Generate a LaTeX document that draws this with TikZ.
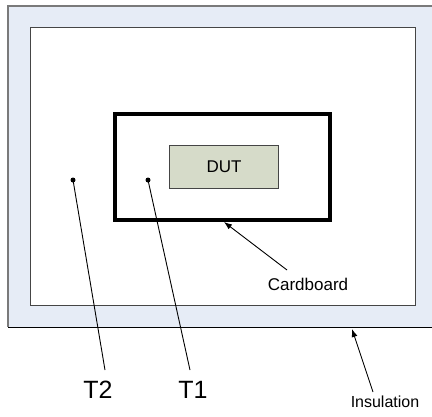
\documentclass[tikz,border=0pt]{standalone}
\usepackage{fontspec}
\setmainfont{Liberation Sans}
\usetikzlibrary{arrows.meta}
\definecolor{insulfill}{HTML}{E6ECF6}
\definecolor{dutfill}{HTML}{D6DBC9}
\definecolor{edgegray}{HTML}{7A7A7A}
\definecolor{darkedge}{HTML}{454545}
\begin{document}
\begin{tikzpicture}[x=1pt,y=-1pt,
  lbl/.style={inner sep=0pt, anchor=base, font=\fontsize{17}{20}\selectfont},
  biglbl/.style={inner sep=0pt, anchor=base, font=\fontsize{25}{30}\selectfont},
  smalllbl/.style={inner sep=0pt, anchor=base, font=\fontsize{16}{19}\selectfont},
  leader/.style={line width=0.9pt, black},
  pointer/.style={line width=0.9pt, black, -{Latex[length=8pt,width=6pt]}},
  probe/.style={circle, fill=black, inner sep=0pt, minimum size=5pt},
  box/.style={anchor=north west, inner sep=0pt, outer sep=0pt}]
\useasboundingbox (0,0) rectangle (432,416);
% insulation
\fill[insulfill] (8,6) rectangle (432,327);
\draw[edgegray, line width=1.5pt] (8,327) -- (8,6) -- (432,6);
\draw[black, line width=1pt] (8,327) -- (432,327);
% chamber
\node[box, draw=darkedge, line width=1pt, fill=white, minimum width=385pt, minimum height=278pt] (chamber) at (30,27) {};
% cardboard
\node[box, draw=black, line width=4pt, fill=white, minimum width=215pt, minimum height=106pt] (cardboard) at (115,114) {};
% DUT
\node[box, draw=darkedge, line width=0.8pt, fill=dutfill, minimum width=109pt, minimum height=43pt] (dut) at (169,145) {};
\node[lbl] (duttext) at (224,172) {DUT};
% probes
\node[probe] (t2p) at (73,180) {};
\node[probe] (t1p) at (148,180) {};
\coordinate (t2e) at (105,370);
\coordinate (t1e) at (190,370);
\draw[leader] (t2p.center) -- (t2e);
\draw[leader] (t1p.center) -- (t1e);
\node[biglbl] (t2) at (98,398) {T2};
\node[biglbl] (t1) at (193,398) {T1};
% cardboard label
\coordinate (cbtail) at (287,270);
\coordinate (cbtip) at (224,222);
\draw[pointer] (cbtail) -- (cbtip);
\node[lbl] (cblabel) at (308,290) {Cardboard};
% insulation label
\coordinate (intail) at (373,392);
\coordinate (intip) at (352,329);
\draw[pointer] (intail) -- (intip);
\node[smalllbl] (inlabel) at (385,407) {Insulation};
\end{tikzpicture}
\end{document}
